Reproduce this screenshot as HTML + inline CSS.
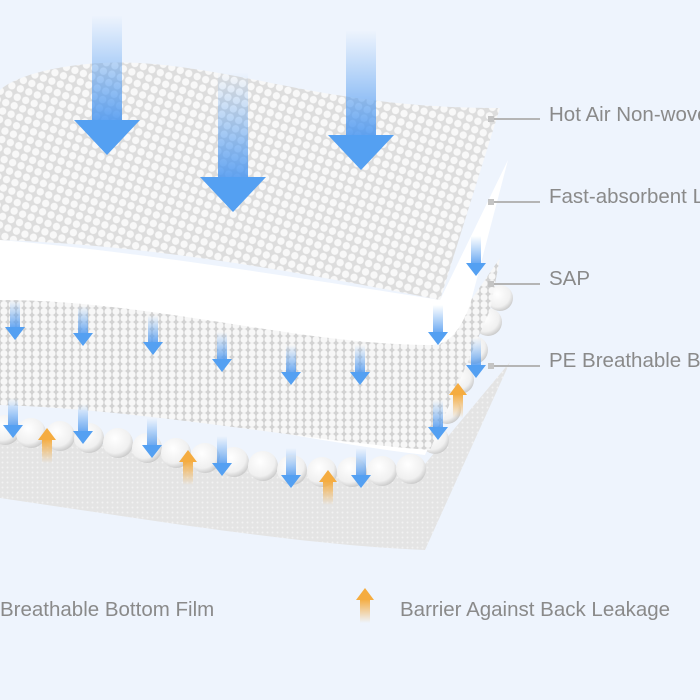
<!DOCTYPE html>
<html><head><style>
html,body{margin:0;padding:0;background:#eef4fd;}
svg{display:block;}
text{font-family:"Liberation Sans",sans-serif;fill:#8a8a8a;font-size:20.5px;}
</style></head><body>
<svg width="700" height="700" viewBox="0 0 700 700" xmlns="http://www.w3.org/2000/svg">
<defs>
<pattern id="weave" width="9" height="9" patternUnits="userSpaceOnUse" patternTransform="rotate(20)">
<rect width="9" height="9" fill="#dddddd"/>
<circle cx="4.5" cy="4.5" r="3.7" fill="#f8f8f8"/>
</pattern>
<pattern id="sap" width="8" height="7" patternUnits="userSpaceOnUse">
<rect width="8" height="7" fill="#d2d2d2"/>
<circle cx="4" cy="3.5" r="3.5" fill="#f7f7f7"/>
</pattern>
<pattern id="fine" width="5" height="5" patternUnits="userSpaceOnUse">
<rect width="5" height="5" fill="#e4e4e4"/>
<circle cx="2.5" cy="2.5" r="1" fill="#f2f2f2"/>
</pattern>
<radialGradient id="bead" cx="0.4" cy="0.35" r="0.7">
<stop offset="0" stop-color="#ffffff"/><stop offset="0.7" stop-color="#f0f0f0"/><stop offset="1" stop-color="#c4c4c4"/>
</radialGradient>
<linearGradient id="blue" x1="0" y1="0" x2="0" y2="1">
<stop offset="0" stop-color="#5aa0f0" stop-opacity="0"/><stop offset="1" stop-color="#4a96f0" stop-opacity="0.9"/>
</linearGradient>
<linearGradient id="orange" x1="0" y1="1" x2="0" y2="0">
<stop offset="0" stop-color="#f5b04a" stop-opacity="0"/><stop offset="1" stop-color="#f5ac40"/>
</linearGradient>
<g id="bigA"><rect x="-15" y="0" width="30" height="110" fill="url(#blue)"/><polygon points="-33,105 33,105 0,140" fill="#54a0f2"/></g>
<g id="smA"><rect x="-5" y="0" width="10" height="30" fill="url(#blue)"/><polygon points="-10,27 10,27 0,40" fill="#54a0f2"/></g>
<g id="orA"><polygon points="-9,12 0,0 9,12" fill="#f5ac40"/><rect x="-5" y="11" width="10" height="24" fill="url(#orange)"/></g>
</defs>
<rect width="700" height="700" fill="#eef4fd"/>
<path d="M0,430 C150,450 300,480 420,470 L510,362 L425,550 C300,545 150,520 0,498 Z" fill="url(#fine)"/>
<g>
<circle cx="5" cy="430" r="15" fill="url(#bead)"/>
<circle cx="31" cy="433" r="15" fill="url(#bead)"/>
<circle cx="60" cy="436" r="15" fill="url(#bead)"/>
<circle cx="89" cy="438" r="15" fill="url(#bead)"/>
<circle cx="118" cy="443" r="15" fill="url(#bead)"/>
<circle cx="147" cy="448" r="15" fill="url(#bead)"/>
<circle cx="176" cy="453" r="15" fill="url(#bead)"/>
<circle cx="205" cy="458" r="15" fill="url(#bead)"/>
<circle cx="234" cy="462" r="15" fill="url(#bead)"/>
<circle cx="263" cy="466" r="15" fill="url(#bead)"/>
<circle cx="292" cy="470" r="15" fill="url(#bead)"/>
<circle cx="322" cy="472" r="15" fill="url(#bead)"/>
<circle cx="352" cy="472" r="15" fill="url(#bead)"/>
<circle cx="382" cy="471" r="15" fill="url(#bead)"/>
<circle cx="411" cy="469" r="15" fill="url(#bead)"/>
<circle cx="435" cy="440" r="14" fill="url(#bead)"/>
<circle cx="447" cy="410" r="14" fill="url(#bead)"/>
<circle cx="460" cy="380" r="14" fill="url(#bead)"/>
<circle cx="474" cy="350" r="14" fill="url(#bead)"/>
<circle cx="488" cy="322" r="14" fill="url(#bead)"/>
<circle cx="500" cy="298" r="13" fill="url(#bead)"/>
</g>
<path d="M0,395 C150,405 300,440 425,455 L445,410 L0,360 Z" fill="#ffffff"/>
<path d="M0,298 C150,300 300,345 440,345 L500,258 L490,310 L430,450 C300,440 150,410 0,405 Z" fill="url(#sap)"/>
<path d="M0,240 C120,250 250,270 440,300 L508,160 L470,305 C460,330 450,345 430,345 C300,345 150,300 0,300 Z" fill="#ffffff"/>
<path d="M0,90 C20,72 80,60 140,63 C250,70 330,108 500,108 L440,300 C300,272 150,245 0,240 Z" fill="url(#weave)"/>
<use href="#bigA" x="107" y="15"/>
<use href="#bigA" x="233" y="72"/>
<use href="#bigA" x="361" y="30"/>
<use href="#smA" x="15" y="300"/>
<use href="#smA" x="83" y="306"/>
<use href="#smA" x="153" y="315"/>
<use href="#smA" x="222" y="332"/>
<use href="#smA" x="291" y="345"/>
<use href="#smA" x="360" y="345"/>
<use href="#smA" x="438" y="305"/>
<use href="#smA" x="476" y="338"/>
<use href="#smA" x="476" y="236"/>
<use href="#smA" x="13" y="398"/>
<use href="#smA" x="83" y="404"/>
<use href="#smA" x="152" y="418"/>
<use href="#smA" x="222" y="436"/>
<use href="#smA" x="291" y="448"/>
<use href="#smA" x="361" y="448"/>
<use href="#smA" x="438" y="400"/>
<use href="#orA" x="47" y="428"/>
<use href="#orA" x="188" y="450"/>
<use href="#orA" x="328" y="470"/>
<use href="#orA" x="458" y="383"/>
<g stroke="#b5b5b5" stroke-width="2">
<line x1="492" y1="119" x2="540" y2="119"/>
<line x1="492" y1="202" x2="540" y2="202"/>
<line x1="492" y1="284" x2="540" y2="284"/>
<line x1="492" y1="366" x2="540" y2="366"/>
</g>
<g fill="#c4c4c4">
<rect x="488" y="116" width="6" height="6"/>
<rect x="488" y="199" width="6" height="6"/>
<rect x="488" y="281" width="6" height="6"/>
<rect x="488" y="363" width="6" height="6"/>
</g>
<text x="549" y="121">Hot Air Non-woven</text>
<text x="549" y="203">Fast-absorbent Layer</text>
<text x="549" y="285">SAP</text>
<text x="549" y="367">PE Breathable Bottom</text>
<text x="0" y="616">Breathable Bottom Film</text>
<use href="#orA" x="365" y="588"/>
<text x="400" y="616">Barrier Against Back Leakage</text>
</svg>
</body></html>
